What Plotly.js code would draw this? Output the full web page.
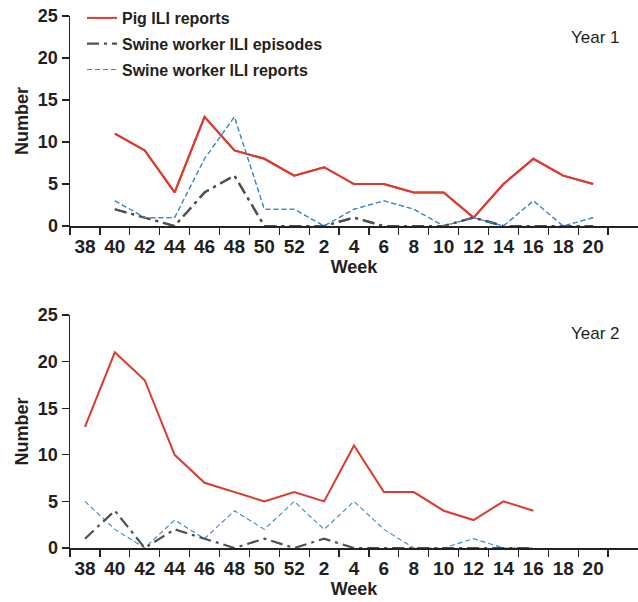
<!DOCTYPE html>
<html>
<head>
<meta charset="utf-8">
<script src="https://cdn.plot.ly/plotly-3.0.1.min.js"></script>
<style>html,body{margin:0;padding:0;background:#fff;}#chart{width:638px;height:602px;}</style>
</head>
<body>
<div id="chart"></div>
<script>
var weeks = ['38','40','42','44','46','48','50','52','2','4','6','8','10','12','14','16','18','20'];

var y1Pig      = [null, 11, 9, 4, 13, 9, 8, 6, 7, 5, 5, 4, 4, 1, 5, 8, 6, 5];
var y1Episodes = [null, 2, 1, 0, 4, 6, 0, 0, 0, 1, 0, 0, 0, 1, 0, 0, 0, 0];
var y1Reports  = [null, 3, 1, 1, 8, 13, 2, 2, 0, 2, 3, 2, 0, 1, 0, 3, 0, 1];

var y2Pig      = [13, 21, 18, 10, 7, 6, 5, 6, 5, 11, 6, 6, 4, 3, 5, 4, null, null];
var y2Episodes = [1, 4, 0, 2, 1, 0, 1, 0, 1, 0, 0, 0, 0, 0, 0, 0, null, null];
var y2Reports  = [5, 2, 0, 3, 1, 4, 2, 5, 2, 5, 2, 0, 0, 1, 0, 0, null, null];

var seriesNames = ['Pig ILI reports', 'Swine worker ILI episodes', 'Swine worker ILI reports'];
var panelLabels = ['Year 1', 'Year 2'];
var yTicks = [0, 5, 10, 15, 20, 25];

var FONT = 'Liberation Sans, Arial, Helvetica, sans-serif';
var RED = '#dc3a2f', DARK = '#505050', BLUE = '#3a87cc';

function mk(y, idx, xa, ya, show) {
  var styles = [
    {color: RED, width: 2, dash: 'solid'},
    {color: DARK, width: 2.2, dash: '12px,5px,3px,5px'},
    {color: BLUE, width: 1.1, dash: '5px,3px'}
  ];
  return {
    x: weeks, y: y, type: 'scatter', mode: 'lines', name: seriesNames[idx],
    xaxis: xa, yaxis: ya, showlegend: show, legendgroup: 'g' + idx,
    line: styles[idx], connectgaps: false, hoverinfo: 'skip'
  };
}

var data = [
  mk(y1Reports, 2, 'x', 'y', false),
  mk(y1Episodes, 1, 'x', 'y', false),
  mk(y1Pig, 0, 'x', 'y', false),
  mk(y2Reports, 2, 'x2', 'y2', false),
  mk(y2Episodes, 1, 'x2', 'y2', false),
  mk(y2Pig, 0, 'x2', 'y2', false)
];
// legend entries, in legend order
data.push(mk(y1Pig, 0, 'x', 'y', true));
data.push(mk(y1Episodes, 1, 'x', 'y', true));
data.push(mk(y1Reports, 2, 'x', 'y', true));

function xAxis(anchor) {
  return {
    anchor: anchor, domain: [70/638, 1], type: 'category',
    categoryorder: 'array', categoryarray: weeks,
    range: [-0.5, 18.5], tickson: 'boundaries', tickangle: 0,
    showline: true, linecolor: '#222', linewidth: 2,
    ticks: 'outside', ticklen: 7, tickwidth: 1.3, tickcolor: '#222',
    ticklabelstandoff: 2,
    showgrid: false, zeroline: false, automargin: false,
    tickfont: {family: FONT, size: 19, color: '#231f20', weight: 'bold'},
    title: {text: '<b>Week</b>', font: {family: FONT, size: 18, color: '#231f20'}, standoff: 3}
  };
}
function yAxis(anchor, dom) {
  return {
    anchor: anchor, domain: dom, range: [0, 25], tickmode: 'array', tickvals: yTicks,
    showline: true, linecolor: '#222', linewidth: 1.5,
    ticks: 'outside', ticklen: 7, tickwidth: 1.3, tickcolor: '#222',
    showgrid: false, zeroline: false, automargin: false,
    tickfont: {family: FONT, size: 18, color: '#231f20', weight: 'bold'},
    title: {text: '<b>Number</b>', font: {family: FONT, size: 18, color: '#231f20'}, standoff: 4}
  };
}

var layout = {
  width: 638, height: 602,
  margin: {l: 0, r: 0, t: 0, b: 0},
  paper_bgcolor: '#fff', plot_bgcolor: '#fff',
  font: {family: FONT, color: '#231f20'},
  xaxis: xAxis('y'),
  yaxis: yAxis('x', [(602-226)/602, (602-16)/602]),
  xaxis2: xAxis('y2'),
  yaxis2: yAxis('x2', [(602-548)/602, (602-315)/602]),
  showlegend: true,
  legend: {
    x: 82/638, y: (602-1)/602, xanchor: 'left', yanchor: 'top',
    bgcolor: 'rgba(0,0,0,0)', borderwidth: 0, tracegroupgap: 2,
    font: {family: FONT, size: 16, color: '#231f20', weight: 'bold'},
    itemclick: false, itemdoubleclick: false
  },
  annotations: [
    {text: panelLabels[0], xref: 'paper', yref: 'paper', x: 622/638, y: (602-37)/602,
     xanchor: 'right', yanchor: 'middle', showarrow: false,
     font: {family: FONT, size: 17, color: '#231f20'}},
    {text: panelLabels[1], xref: 'paper', yref: 'paper', x: 622/638, y: (602-333)/602,
     xanchor: 'right', yanchor: 'middle', showarrow: false,
     font: {family: FONT, size: 17, color: '#231f20'}}
  ]
};

Plotly.newPlot('chart', data, layout, {staticPlot: true, displayModeBar: false});
</script>
</body>
</html>
